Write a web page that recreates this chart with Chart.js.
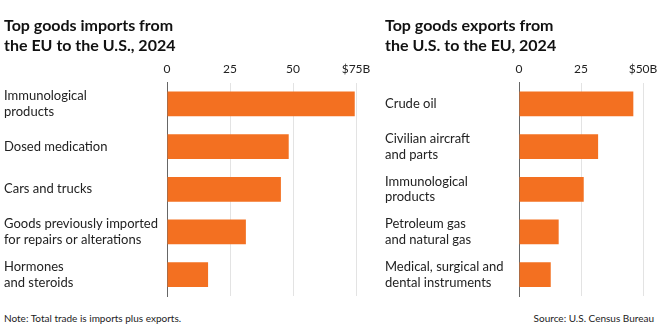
<!DOCTYPE html>
<html>
<head>
<meta charset="utf-8">
<script src="https://cdn.jsdelivr.net/npm/chart.js@4"></script>
<style>
  body { margin: 0; background: #fff; width: 668px; height: 334px; position: relative; overflow: hidden; }
  .panel { position: absolute; top: 0; height: 300px; }
  .note { position: absolute; top: 312px; font: 10px Lato, sans-serif; color: #222; }
</style>
</head>
<body>
<div class="panel" style="left:0;width:380px"><canvas id="imports"></canvas></div>
<div class="panel" style="left:381px;width:287px"><canvas id="exports"></canvas></div>
<div class="note" style="left:4px">Note: Total trade is imports plus exports.</div>
<div class="note" style="right:14px">Source: U.S. Census Bureau</div>
<script>
// goods trade, billions of dollars
const importLabels = [
  ["Immunological", "products"],
  "Dosed medication",
  "Cars and trucks",
  ["Goods previously imported", "for repairs or alterations"],
  ["Hormones", "and steroids"],
];
const importValues = [74.5, 48.3, 45.2, 31.3, 16.3];
const importTicks = [0, 25, 50, 75];
const importTickLabels = ["0", "25", "50", "$75B"];

const exportLabels = [
  "Crude oil",
  ["Civilian aircraft", "and parts"],
  ["Immunological", "products"],
  ["Petroleum gas", "and natural gas"],
  ["Medical, surgical and", "dental instruments"],
];
const exportValues = [46.1, 31.9, 26.1, 16.0, 12.8];
const exportTicks = [0, 25, 50];
const exportTickLabels = ["0", "25", "$50B"];

const BAR_COLOR = "#f37021";
const LABEL_FONT = "Lato, sans-serif";

function makeChart(id, title, labels, values, ticks, tickLabels, axisWidth, rightPad) {
  return new Chart(id, {
    type: "bar",
    data: {
      labels: labels,
      datasets: [
        {
          data: values,
          backgroundColor: BAR_COLOR,
          barPercentage: 0.58,
          categoryPercentage: 1,
        },
      ],
    },
    options: {
      indexAxis: "y",
      responsive: true,
      maintainAspectRatio: false,
      animation: false,
      layout: { padding: { left: 4, right: rightPad, top: 0, bottom: 4 } },
      plugins: {
        legend: { display: false },
        tooltip: { enabled: false },
        title: {
          display: true,
          text: title,
          align: "start",
          color: "#111",
          font: { family: LABEL_FONT, size: 16, weight: "bold", lineHeight: 1.3 },
          padding: { top: 15, bottom: 0 },
        },
      },
      scales: {
        x: {
          position: "top",
          min: ticks[0],
          max: ticks[ticks.length - 1],
          afterBuildTicks: (scale) => {
            scale.ticks = ticks.map((v) => ({ value: v }));
          },
          afterFit: (scale) => {
            scale.height = 26;
          },
          grid: { color: "#e3e3e3", drawTicks: false },
          border: { display: false },
          ticks: {
            padding: 6,
            color: "#222",
            font: { family: LABEL_FONT, size: 12 },
            callback: (v, i) => tickLabels[i],
          },
        },
        y: {
          afterFit: (scale) => {
            // fixed label column, no extra room for the two-line labels
            scale.width = axisWidth;
            scale.paddingTop = 0;
            scale.paddingBottom = 0;
          },
          grid: { display: false },
          border: { display: true, color: "#666", width: 1 },
          ticks: {
            crossAlign: "far",
            padding: 0,
            color: "#222",
            font: { family: LABEL_FONT, size: 13, lineHeight: 1.2 },
          },
        },
      },
    },
  });
}

makeChart("imports", ["Top goods imports from", "the EU to the U.S., 2024"],
  importLabels, importValues, importTicks, importTickLabels, 163, 24);
makeChart("exports", ["Top goods exports from", "the U.S. to the EU, 2024"],
  exportLabels, exportValues, exportTicks, exportTickLabels, 134, 25);
</script>
</body>
</html>
